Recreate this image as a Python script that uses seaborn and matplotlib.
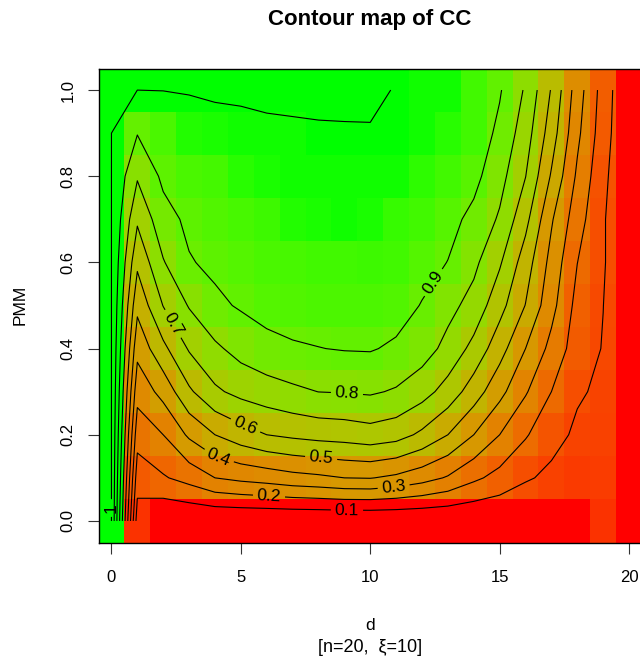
import numpy as np
import pandas as pd
import matplotlib
matplotlib.use("Agg")
import matplotlib.pyplot as plt
import seaborn as sns
from matplotlib.colors import ListedColormap

# ---------------- data ----------------
d_values = list(range(21))
pmm_values = [0.0, 0.1, 0.2, 0.3, 0.4, 0.5, 0.6, 0.7, 0.8, 0.9, 1.0]

cc_pmm_00 = [1.0001, 0.05, 0, 0, 0, 0, 0, 0, 0, 0, 0, 0, 0, 0, 0, 0, 0, 0, 0, 0.05, 0]
cc_pmm_01 = [1.0001, 0.145, 0.19, 0.236, 0.30, 0.325, 0.343, 0.367, 0.381, 0.40, 0.404,
             0.38, 0.34, 0.29, 0.22, 0.167, 0.111, 0.08, 0.065, 0.07, 0]
cc_pmm_02 = [1.0001, 0.24, 0.30, 0.417, 0.50, 0.556, 0.60, 0.62, 0.635, 0.643, 0.66,
             0.64, 0.58, 0.50, 0.40, 0.30, 0.21, 0.13, 0.085, 0.08, 0]
cc_pmm_03 = [1.0001, 0.335, 0.433, 0.583, 0.683, 0.729, 0.756, 0.78, 0.801, 0.805, 0.812,
             0.79, 0.74, 0.66, 0.55, 0.43, 0.31, 0.20, 0.11, 0.085, 0]
cc_pmm_04 = [1.0001, 0.43, 0.575, 0.71, 0.782, 0.835, 0.87, 0.89, 0.898, 0.905, 0.907,
             0.885, 0.845, 0.77, 0.67, 0.54, 0.40, 0.27, 0.15, 0.095, 0]
cc_pmm_05 = [1.0001, 0.525, 0.703, 0.807, 0.88, 0.91, 0.935, 0.94, 0.945, 0.945, 0.945,
             0.94, 0.895, 0.83, 0.765, 0.635, 0.497, 0.333, 0.168, 0.101, 0]
cc_pmm_06 = [1.0001, 0.62, 0.793, 0.893, 0.92, 0.935, 0.95, 0.955, 0.96, 0.962, 0.965,
             0.96, 0.935, 0.898, 0.823, 0.7125, 0.55, 0.367, 0.201, 0.11, 0]
cc_pmm_07 = [1.0001, 0.715, 0.864, 0.92, 0.94, 0.955, 0.965, 0.99, 0.993, 0.995, 0.993,
             0.975, 0.96, 0.93, 0.875, 0.787, 0.63, 0.411, 0.243, 0.11, 0]
cc_pmm_08 = [1.0001, 0.81, 0.92, 0.948, 0.958, 0.985, 0.992, 0.995, 0.997, 0.997, 0.997,
             0.995, 0.98, 0.96, 0.928, 0.835, 0.702, 0.489, 0.283, 0.125, 0]
cc_pmm_09 = [1.0001, 0.904, 0.95, 0.99, 0.993, 0.997, 0.998, 0.9985, 0.999, 0.9993, 0.9995,
             0.999, 0.997, 0.985, 0.96, 0.878, 0.748, 0.55, 0.322, 0.146, 0]
cc_pmm_10 = [1.0001, 1.0001, 1.001, 1.0013, 1.0028, 1.0018, 1.0023, 1.0024, 1.0023, 1.0019, 1.0015,
             0.9996, 0.997, 0.995, 0.96, 0.909, 0.788, 0.5925, 0.349, 0.158, 0]

contour_levels = [0.1, 0.2, 0.3, 0.4, 0.5, 0.6, 0.7, 0.8, 0.9, 1.0]
x_ticks = [0, 5, 10, 15, 20]
y_ticks = [0.0, 0.2, 0.4, 0.6, 0.8, 1.0]

rows = [cc_pmm_00, cc_pmm_01, cc_pmm_02, cc_pmm_03, cc_pmm_04, cc_pmm_05,
        cc_pmm_06, cc_pmm_07, cc_pmm_08, cc_pmm_09, cc_pmm_10]
Z = np.array(rows, dtype=float)
df = pd.DataFrame(Z, index=pmm_values, columns=d_values)

# ---------------- red -> green palette interpolated in CIE Lab ----------------
WHITE = np.array([0.95047, 1.0, 1.08883])
M = np.array([[0.4124564, 0.3575761, 0.1804375],
              [0.2126729, 0.7151522, 0.0721750],
              [0.0193339, 0.1191920, 0.9503041]])
Minv = np.linalg.inv(M)


def _f(t):
    dd = 6 / 29
    return np.where(t > dd ** 3, np.cbrt(t), t / (3 * dd * dd) + 4 / 29)


def _finv(t):
    dd = 6 / 29
    return np.where(t > dd, t ** 3, 3 * dd * dd * (t - 4 / 29))


def srgb_to_lab(rgb):
    c = np.asarray(rgb, float)
    lin = np.where(c <= 0.04045, c / 12.92, ((c + 0.055) / 1.055) ** 2.4)
    xyz = lin @ M.T / WHITE
    fx, fy, fz = _f(xyz[..., 0]), _f(xyz[..., 1]), _f(xyz[..., 2])
    return np.stack([116 * fy - 16, 500 * (fx - fy), 200 * (fy - fz)], axis=-1)


def lab_to_srgb(lab):
    L, a, b = lab[..., 0], lab[..., 1], lab[..., 2]
    fy = (L + 16) / 116
    fx = fy + a / 500
    fz = fy - b / 200
    xyz = np.stack([_finv(fx), _finv(fy), _finv(fz)], axis=-1) * WHITE
    lin = np.clip(xyz @ Minv.T, 0, 1)
    return np.where(lin <= 0.0031308, 12.92 * lin, 1.055 * lin ** (1 / 2.4) - 0.055)


lab_r = srgb_to_lab([1.0, 0.0, 0.0])
lab_g = srgb_to_lab([0.0, 1.0, 0.0])
tt = np.linspace(0, 1, 256)[:, None]
cmap = ListedColormap(np.clip(lab_to_srgb(lab_r * (1 - tt) + lab_g * tt), 0, 1))

# ---------------- figure ----------------
sns.set_theme(style="ticks")
plt.rcParams['font.family'] = ['Liberation Sans', 'DejaVu Sans']
plt.rcParams['text.color'] = 'black'

W, H = 640, 662
fig = plt.figure(figsize=(W / 100, H / 100), dpi=100)
left, right, top, bottom = 98.5, 642.0, 68.5, 542.5
ax = fig.add_axes([left / W, 1 - bottom / H, (right - left) / W, (bottom - top) / H])

sns.heatmap(df, ax=ax, cmap=cmap, cbar=False, vmin=float(Z.min()), vmax=float(Z.max()),
            linewidths=0)
ax.set_xlim(0, len(d_values))
ax.set_ylim(0, len(pmm_values))  # PMM increasing upward

# heatmap cell centres: d -> d + 0.5, PMM -> 10*PMM + 0.5
xc = np.array(d_values, float) + 0.5
yc = np.array(pmm_values) * 10 + 0.5
cs = ax.contour(xc, yc, Z, levels=contour_levels, colors='black', linewidths=0.8)

label_pos = [(9.6, 0.76), (6.59, 1.10), (11.4, 1.33), (4.66, 2.03), (8.6, 1.95),
             (5.66, 2.69), (2.92, 5.09), (9.6, 3.46), (13.0, 6.01), (0.5, 0.8)]
ax.clabel(cs, fmt=lambda v: f"{v:g}", fontsize=12.5, inline=True, inline_spacing=4,
          manual=label_pos)

ax.set_xticks([v + 0.5 for v in x_ticks])
ax.set_xticklabels([str(v) for v in x_ticks], rotation=0)
ax.set_yticks([v * 10 + 0.5 for v in y_ticks])
ax.set_yticklabels([f"{v:.1f}" for v in y_ticks], rotation=90, va='center')
ax.tick_params(axis='both', direction='out', length=7.7, width=0.8, color='#333333',
               labelsize=12, labelcolor='black')
ax.tick_params(axis='x', pad=12)
ax.tick_params(axis='y', pad=9)
ax.set_xlabel("")
ax.set_ylabel("")
for s in ax.spines.values():
    s.set_visible(True)
    s.set_color('black')
    s.set_linewidth(1.0)

fig.text(370 / W, 1 - 20 / H, "Contour map of CC", ha='center', va='center',
         fontsize=16, fontweight='bold', color='black')
fig.text(370 / W, 1 - 625 / H, "d", ha='center', va='center', fontsize=12.5, color='black')
fig.text(370 / W, 1 - 648 / H, "[n=20,  \u03be=10]", ha='center', va='center',
         fontsize=13, color='black')
fig.text(20 / W, 1 - 305 / H, "PMM", ha='center', va='center', rotation=90,
         fontsize=12.5, color='black')

fig.savefig("out.png", dpi=100)
